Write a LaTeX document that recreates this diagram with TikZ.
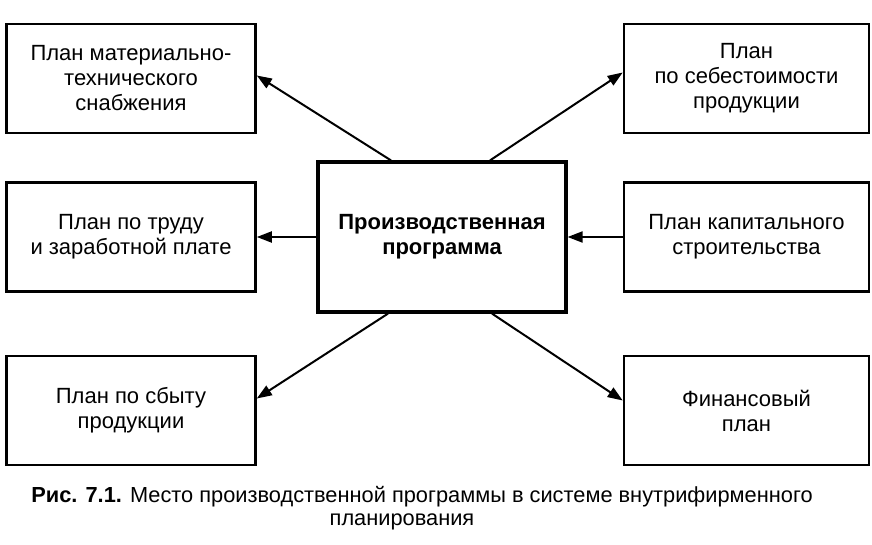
\documentclass[tikz,border=0pt]{standalone}
\usepackage{fontspec}
\setmainfont{Liberation Sans}
\usetikzlibrary{arrows.meta}
\begin{document}
\begin{tikzpicture}[x=1pt,y=-1pt,
  box/.style={draw,line width=2.6pt,rectangle,minimum width=249pt,minimum height=109pt,align=center,font=\fontsize{22}{25}\selectfont,inner sep=0pt},
  cbox/.style={box,line width=3.2pt,minimum width=248pt,minimum height=150pt,font=\bfseries\fontsize{22}{25}\selectfont},
  arr/.style={line width=2pt,-{Triangle[length=15pt,width=11pt]}},
  captext/.style={font=\fontsize{21.8}{25}\selectfont,inner sep=0pt}]
\useasboundingbox (0,0) rectangle (872,545);
\node[box] (tl) at (131,78.5) {План материально-\\технического\\снабжения};
\node[box] (ml) at (131,237) {План по труду\\и заработной плате};
\node[box] (bl) at (131,410.5) {План по сбыту\\продукции};
\node[cbox] (c) at (442,237) {Производственная\\программа};
\node[box,minimum width=245pt] (tr) at (746.5,78.5) {План\\по себестоимости\\продукции};
\node[box,minimum width=245pt] (mr) at (746.5,237) {План капитального\\строительства};
\node[box,minimum width=245pt] (br) at (746.5,410.5) {Финансовый\\план};
\draw[arr] ([xshift=-51pt]c.north) -- ([yshift=3pt]tl.east);
\draw[arr] ([xshift=48pt]c.north) -- ([yshift=6pt]tr.west);
\draw[arr] (c.west) -- (ml.east);
\draw[arr] (mr.west) -- (c.east);
\draw[arr] ([xshift=-54pt]c.south) -- ([yshift=12pt]bl.east);
\draw[arr] ([xshift=50pt]c.south) -- ([yshift=10pt]br.west);
\node[captext] (cap1) at (422,497) {\textbf{Рис. 7.1.} Место производственной программы в системе внутрифирменного};
\node[captext] (cap2) at (402,522) {планирования};
\end{tikzpicture}
\end{document}
